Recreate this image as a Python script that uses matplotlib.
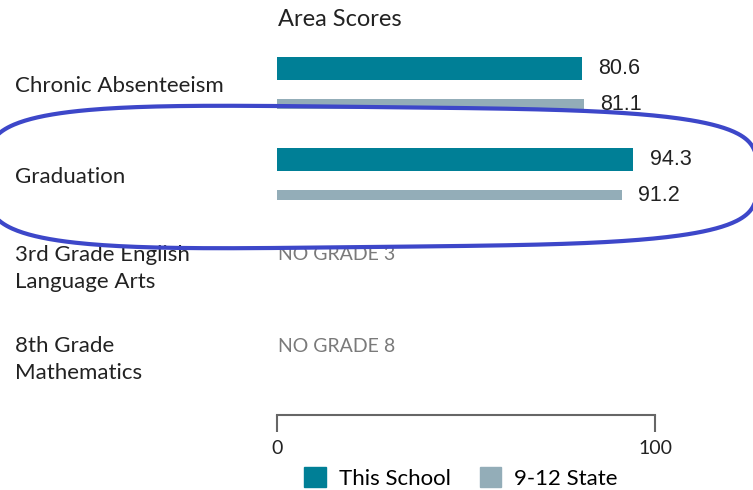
import numpy as np
import matplotlib.pyplot as plt
from matplotlib.patches import Patch
from matplotlib.lines import Line2D
from matplotlib.transforms import blended_transform_factory

# data
categories = ["Chronic Absenteeism", "Graduation",
              "3rd Grade English\nLanguage Arts", "8th Grade\nMathematics"]
school = [80.6, 94.3, None, None]
state = [81.1, 91.2, None, None]
missing = [None, None, "NO GRADE 3", "NO GRADE 8"]
series_names = ["This School", "9-12 State"]

c_school = "#007f96"
c_state = "#93adb8"
c_text = "#222222"

W, H = 753, 490
fig = plt.figure(figsize=(W / 100, H / 100), dpi=100)
ax = fig.add_axes([277 / W, (H - 415) / H, 378 / W, (415 - 40) / H])

y = np.arange(len(categories))
off = 18 / 91
for i in range(len(categories)):
    if school[i] is not None:
        ax.barh(y[i] - off, school[i], height=0.253, color=c_school)
        ax.annotate(f"{school[i]:.1f}", (school[i], y[i] - off), xytext=(12, 0),
                    textcoords="offset points", va="center", ha="left",
                    fontsize=15.5, family="Liberation Sans", color=c_text)
    if state[i] is not None:
        ax.barh(y[i] + off, state[i], height=0.11, color=c_state)
        ax.annotate(f"{state[i]:.1f}", (state[i], y[i] + off), xytext=(12, 0),
                    textcoords="offset points", va="center", ha="left",
                    fontsize=15.5, family="Liberation Sans", color=c_text)
    if missing[i] is not None:
        ax.text(0.3, y[i] - 0.148, missing[i], va="center", ha="left",
                fontsize=14, family="Lato", color="#7a7a7a")

ax.set_xlim(0, 100)
ax.set_ylim(3.61, -0.51)
ax.set_xticks([0, 100])
ax.set_xticklabels(["0", "100"], fontsize=14, family="Lato", color=c_text)
ax.set_yticks([])
for s in ["left", "top", "right"]:
    ax.spines[s].set_visible(False)
ax.spines["bottom"].set_color("#666666")
ax.spines["bottom"].set_linewidth(1.5)
ax.tick_params(axis="x", length=12, width=1.5, color="#666666", pad=6)

# category labels
tr = blended_transform_factory(fig.transFigure, ax.transData)
for i, cat in enumerate(categories):
    ax.text(15 / W, y[i], cat, transform=tr, va="center", ha="left",
            fontsize=16, family="Lato", color=c_text, linespacing=1.4)

fig.text(278 / W, 1 - 19 / H, "Area Scores", va="center", ha="left",
         fontsize=17, family="Lato", color=c_text)

handles = [Patch(color=c_school), Patch(color=c_state)]
fig.legend(handles, series_names, loc="center", ncol=2, frameon=False,
           bbox_to_anchor=(461 / W, 1 - 478 / H), handlelength=0.95, handleheight=0.95,
           columnspacing=1.3, handletextpad=0.6,
           prop={"family": "Lato", "size": 16})

# hand-drawn highlight around Graduation
t = np.linspace(0, 2 * np.pi, 400)
n = 4
u = np.sign(np.cos(t)) * np.abs(np.cos(t)) ** (2 / n)
v = np.sign(np.sin(t)) * np.abs(np.sin(t)) ** (2 / n)
px = 372 + 385 * u
py = 177 + 70 * (1 - 0.06 * u) * v
fig.add_artist(Line2D(px / W, 1 - py / H, transform=fig.transFigure,
                      color="#3d47c9", linewidth=3))

fig.savefig("out.png", dpi=100)
